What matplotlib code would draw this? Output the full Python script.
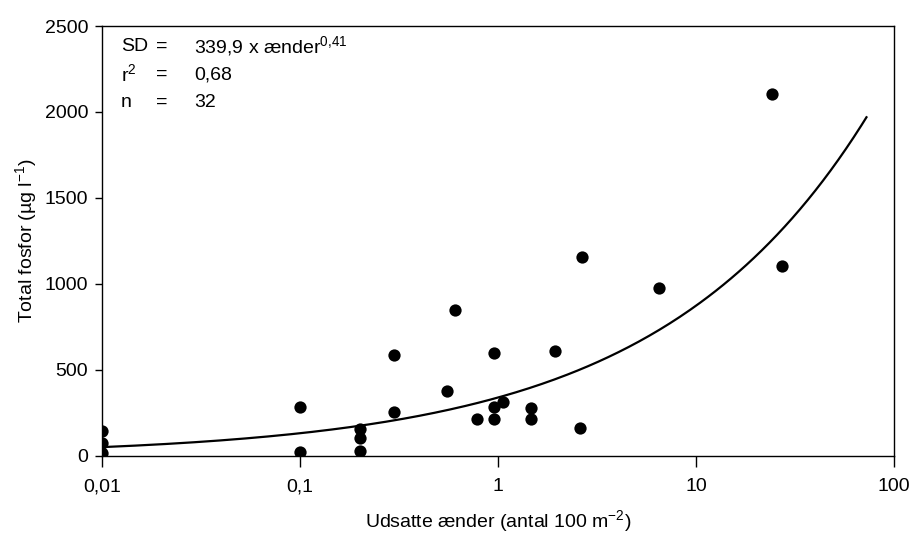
import numpy as np
import matplotlib
matplotlib.use("Agg")
import matplotlib.pyplot as plt
from matplotlib.ticker import FixedLocator, FixedFormatter, NullLocator

plt.rcParams['font.family'] = ['Liberation Sans', 'DejaVu Sans']
plt.rcParams['mathtext.fontset'] = 'custom'
plt.rcParams['mathtext.rm'] = 'Liberation Sans'
plt.rcParams['mathtext.it'] = 'Liberation Sans'

# Data
ducks = [0.01, 0.01, 0.01, 0.1, 0.1, 0.2, 0.2, 0.2, 0.3, 0.3,
         0.55, 0.61, 0.78, 0.96, 0.96, 0.96, 1.06, 1.46, 1.46,
         1.93, 2.61, 2.65, 6.5, 24.3, 27.1]
phosphorus = [147, 77, 16, 283, 21, 159, 106, 29, 585, 256,
              380, 847, 213, 599, 283, 213, 312, 281, 215,
              612, 165, 1159, 977, 2105, 1107]

# Fitted model stated on the chart: SD = 339.9 * x^0.41
coef = 339.9
expo = 0.41
fit_range = (0.01, 72.6)

xticks = [0.01, 0.1, 1, 10, 100]
xtick_labels = ['0,01', '0,1', '1', '10', '100']
yticks = [0, 500, 1000, 1500, 2000, 2500]
ytick_labels = ['0', '500', '1000', '1500', '2000', '2500']

fig = plt.figure(figsize=(9.09, 5.35), dpi=100)
ax = fig.add_axes([0.1122, 0.1477, 0.8713, 0.8037])

xf = np.logspace(np.log10(fit_range[0]), np.log10(fit_range[1]), 300)
ax.plot(xf, coef * xf ** expo, color='black', lw=1.6, zorder=2)
ax.scatter(ducks, phosphorus, s=78, color='black', zorder=3, linewidths=0)

ax.set_xscale('log')
ax.set_xlim(0.01, 100)
ax.set_ylim(0, 2500)
ax.xaxis.set_major_locator(FixedLocator(xticks))
ax.xaxis.set_major_formatter(FixedFormatter(xtick_labels))
ax.xaxis.set_minor_locator(NullLocator())
ax.yaxis.set_major_locator(FixedLocator(yticks))
ax.yaxis.set_major_formatter(FixedFormatter(ytick_labels))

for sp in ax.spines.values():
    sp.set_linewidth(1.0)
ax.tick_params(axis='x', direction='out', length=8, width=1.0, labelsize=14, pad=8)
ax.tick_params(axis='y', direction='out', length=5, width=1.0, labelsize=14, pad=5)

ax.set_xlabel(r'Udsatte ænder (antal 100 m$^{\mathregular{-2}}$)', fontsize=14, labelpad=9)
ax.set_ylabel(r'Total fosfor (µg l$^{\mathregular{-1}}$)', fontsize=14, labelpad=4)

fs = 14
rows = [(r'SD', '=', r'339,9 x ænder$^{\mathregular{0{,}41}}$'),
        (r'r$^{\mathregular{2}}$', '=', '0,68'),
        ('n', '=', '32')]
ys = [0.953, 0.887, 0.822]
for (a, b, c), y in zip(rows, ys):
    ax.text(0.024, y, a, transform=ax.transAxes, fontsize=fs, va='center', ha='left')
    ax.text(0.068, y, b, transform=ax.transAxes, fontsize=fs, va='center', ha='left')
    ax.text(0.116, y, c, transform=ax.transAxes, fontsize=fs, va='center', ha='left')

fig.savefig('out.png', dpi=100)
